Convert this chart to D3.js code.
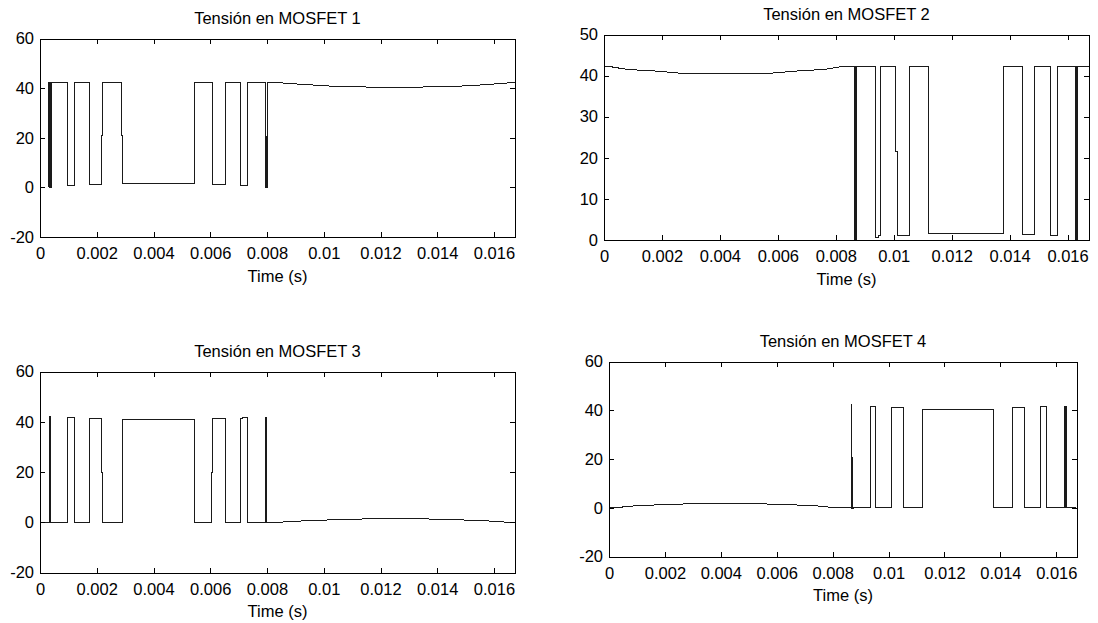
<!DOCTYPE html>
<html>
<head>
<meta charset="utf-8">
<script src="https://cdn.jsdelivr.net/npm/d3@7"></script>
<style>
  html, body { margin: 0; padding: 0; background: #fff; }
  svg { display: block; }
  text { font-family: "Liberation Sans", Arial, Helvetica, sans-serif; fill: #000; }
</style>
</head>
<body>
<svg id="chart" width="1098" height="623"></svg>
<script>
// ---------------- data ----------------
const titles = ["Tensión en MOSFET 1", "Tensión en MOSFET 2", "Tensión en MOSFET 3", "Tensión en MOSFET 4"];
const xLabel = "Time (s)";
const xTicks = [0, 0.002, 0.004, 0.006, 0.008, 0.01, 0.012, 0.014, 0.016];
const xTickLabels = ["0", "0.002", "0.004", "0.006", "0.008", "0.01", "0.012", "0.014", "0.016"];
const xMax = 0.01674;
const yTicksA = [-20, 0, 20, 40, 60];
const yTickLabelsA = ["-20", "0", "20", "40", "60"];
const yTicksB = [0, 10, 20, 30, 40, 50];
const yTickLabelsB = ["0", "10", "20", "30", "40", "50"];

// MOSFET 1 (time s, voltage V) breakpoints
const m1_t = [0.00029,0.00029,0.00033,0.00033,0.000355,0.000355,0.00038,0.00038,0.0004,0.0004,
  0.000963,0.000963,0.001233,0.001233,0.00175,0.00175,0.002174,0.002174,0.00222,0.00222,
  0.002855,0.002855,0.0029,0.0029,0.00543,0.00543,0.006085,0.006085,0.00652,0.00652,
  0.00707,0.00707,0.0073,0.0073,0.00793,0.00793,0.00795,0.00795,0.00797,0.00797,0.00799,0.00799,0.00801,0.00801,
  0.0084,0.0092,0.0101,0.0110,0.0125,0.0140,0.0150,0.0159,0.0166,0.01674];
const m1_v = [0,42.2,42.2,0,0,42.2,42.2,0,0,42.2,
  42.2,0.7,0.7,42.2,42.2,1.2,1.2,21,21,42.2,
  42.2,21,21,1.6,1.6,42.2,42.2,1.3,1.3,42.2,
  42.2,0.8,0.8,42.2,42.2,20.7,20.7,0,0,20.7,20.7,0,0,42.2,
  42.2,41.55,40.9,40.5,40.35,40.5,40.9,41.55,42.2,42.2];

// MOSFET 2
const m2_t = [0,0.0002,0.0008,0.0018,0.0026,0.0042,0.0058,0.0066,0.0076,0.0082,
  0.00865,0.00865,0.00867,0.00867,0.00869,0.00869,0.00871,0.00871,
  0.00936,0.00936,0.00946,0.00946,0.00956,0.00956,0.01005,0.01005,0.01013,0.01013,0.01055,0.01055,
  0.0112,0.0112,0.01378,0.01378,0.01443,0.01443,0.01485,0.01485,0.01542,0.01542,0.01567,0.01567,
  0.01627,0.01627,0.01629,0.01629,0.01631,0.01631,0.01633,0.01633,0.01674];
const m2_v = [42.2,42.2,41.5,41.1,40.6,40.4,40.6,41.1,41.5,42.2,
  42.2,0,0,42.2,42.2,0,0,42.2,
  42.2,0.6,0.6,1.0,1.0,42.2,42.2,21.5,21.5,1.2,1.2,42.2,
  42.2,1.7,1.7,42.2,42.2,1.3,1.3,42.2,42.2,1.0,1.0,42.2,
  42.2,0,0,42.2,42.2,0,0,42.2,42.2];

// MOSFET 3
const m3_t = [0,0.00033,0.00033,0.000345,0.000345,0.00036,0.00036,0.000375,0.000375,
  0.000963,0.000963,0.001233,0.001233,0.00175,0.00175,0.00218,0.00218,0.00222,0.00222,
  0.0029,0.0029,0.00543,0.00543,0.00603,0.00603,0.00607,0.00607,0.00652,0.00652,
  0.00706,0.00706,0.00712,0.00712,0.0073,0.0073,
  0.00794,0.00794,0.007955,0.007955,0.00797,0.00797,0.007985,0.007985,
  0.0084,0.0092,0.0105,0.0125,0.0146,0.0158,0.0165,0.01674];
const m3_v = [0,0,42.1,42.1,0,0,42.1,42.1,0,
  0,41.6,41.6,0,0,41.1,41.1,20,20,0,
  0,40.7,40.7,0,0,20,20,41.1,41.1,0,
  0,41.1,41.1,41.6,41.6,0,
  0,41.6,41.6,0,0,41.6,41.6,0,
  0,0.5,1.06,1.6,1.06,0.5,0,0];

// MOSFET 4
const m4_t = [0,0.0002,0.00085,0.0021,0.0041,0.0062,0.0075,0.0081,
  0.00868,0.00868,0.00868,0.0087,0.0087,0.00872,0.00872,0.00874,
  0.00937,0.00937,0.00955,0.00955,0.01012,0.01012,0.01054,0.01054,
  0.01121,0.01121,0.01376,0.01376,0.01443,0.01443,0.01485,0.01485,0.01543,0.01543,0.01566,0.01566,
  0.01629,0.01629,0.01631,0.01631,0.01633,0.01633,0.01635,0.01635,0.01672];
const m4_v = [0,0,0.7,1.4,1.9,1.4,0.7,0,
  0,42.5,-0.5,-0.5,20.5,20.5,-0.5,0,
  0,41.6,41.6,0,0,41.1,41.1,0,
  0,40.5,40.5,0,0,41.1,41.1,0,0,41.6,41.6,0,
  0,41.6,41.6,0,0,41.6,41.6,0,0];

// ---------------- layout ----------------
const layout = [
  {l: 40,  r: 515,  t: 38.5,  b: 237,   yt: yTicksA, yl: yTickLabelsA, tt: m1_t, vv: m1_v},
  {l: 604, r: 1089, t: 34.5,  b: 240,   yt: yTicksB, yl: yTickLabelsB, tt: m2_t, vv: m2_v},
  {l: 40,  r: 515,  t: 371.5, b: 572.5, yt: yTicksA, yl: yTickLabelsA, tt: m3_t, vv: m3_v},
  {l: 609, r: 1077, t: 361.5, b: 556.5, yt: yTicksA, yl: yTickLabelsA, tt: m4_t, vv: m4_v}
];

const svg = d3.select("#chart");
const FS = 16.5;

layout.forEach((p, i) => {
  const x = d3.scaleLinear().domain([0, xMax]).range([p.l, p.r]);
  const y = d3.scaleLinear().domain([p.yt[0], p.yt[p.yt.length - 1]]).range([p.b, p.t]);
  const g = svg.append("g");

  // trace
  const pts = p.tt.map((t, k) => [t, p.vv[k]]);
  g.append("path")
    .datum(pts)
    .attr("fill", "none")
    .attr("stroke", "#1a1a1a")
    .attr("stroke-width", 1)
    .attr("shape-rendering", "crispEdges")
    .attr("d", d3.line().x(d => x(d[0])).y(d => y(d[1])));

  // axes (ticks inward on all four sides)
  const styleAxis = sel => {
    sel.select(".domain").remove();
    sel.selectAll("line").attr("stroke", "#000").attr("shape-rendering", "crispEdges");
    sel.attr("font-family", null).attr("font-size", null);
    sel.selectAll("text").style("font-size", FS + "px").attr("fill", "#000");
  };
  g.append("g").attr("transform", `translate(0,${p.b})`)
    .call(d3.axisBottom(x).tickValues(xTicks).tickFormat((d, k) => xTickLabels[k])
      .tickSizeInner(-5).tickSizeOuter(0).tickPadding(10.5))
    .call(styleAxis);
  g.append("g").attr("transform", `translate(0,${p.t})`)
    .call(d3.axisTop(x).tickValues(xTicks).tickFormat("").tickSizeInner(-5).tickSizeOuter(0))
    .call(styleAxis);
  g.append("g").attr("transform", `translate(${p.l},0)`)
    .call(d3.axisLeft(y).tickValues(p.yt).tickFormat((d, k) => p.yl[k])
      .tickSizeInner(-5).tickSizeOuter(0).tickPadding(6))
    .call(styleAxis);
  g.append("g").attr("transform", `translate(${p.r},0)`)
    .call(d3.axisRight(y).tickValues(p.yt).tickFormat("").tickSizeInner(-5).tickSizeOuter(0))
    .call(styleAxis);

  // frame
  g.append("rect")
    .attr("x", Math.round(p.l) + 0.5).attr("y", Math.round(p.t) + 0.5)
    .attr("width", Math.round(p.r) - Math.round(p.l))
    .attr("height", Math.round(p.b) - Math.round(p.t))
    .attr("fill", "none").attr("stroke", "#000").attr("stroke-width", 1)
    .attr("shape-rendering", "crispEdges");

  // title & x label
  const cx = (p.l + p.r) / 2;
  g.append("text").attr("x", cx).attr("y", p.t - 14.5)
    .attr("text-anchor", "middle").style("font-size", FS + "px").text(titles[i]);
  g.append("text").attr("x", cx).attr("y", p.b + 44.5)
    .attr("text-anchor", "middle").style("font-size", FS + "px").text(xLabel);
});
</script>
</body>
</html>
